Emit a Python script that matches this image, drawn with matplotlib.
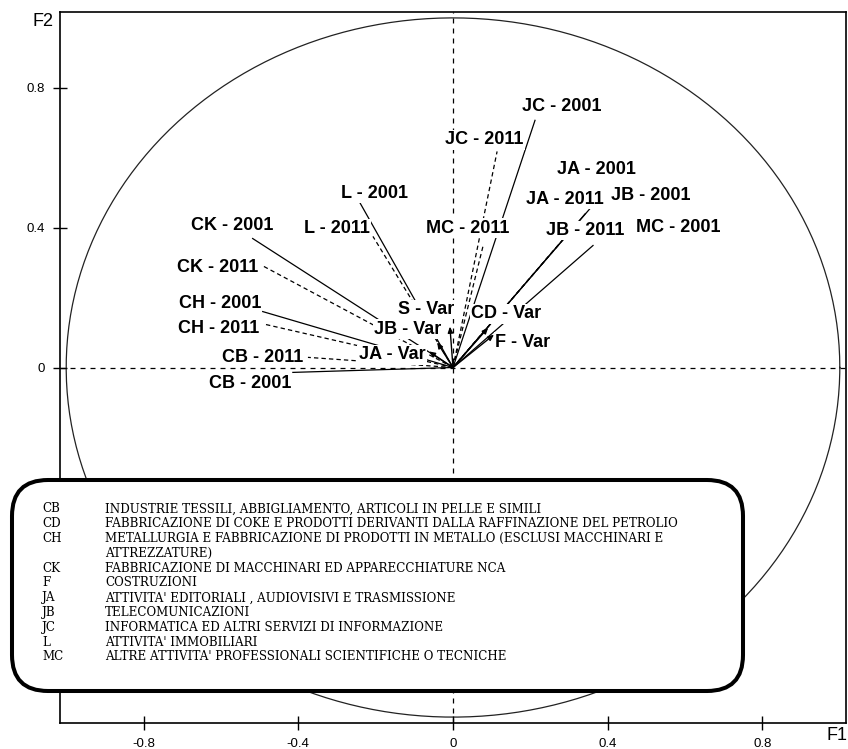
import numpy as np
import matplotlib
matplotlib.use("Agg")
import matplotlib.pyplot as plt
from matplotlib.patches import FancyBboxPatch
from matplotlib.transforms import IdentityTransform

# Variable coordinates on the first two factorial axes (F1, F2)
names_2001 = ["CB - 2001", "CH - 2001", "CK - 2001", "L - 2001",
              "JC - 2001", "JA - 2001", "JB - 2001", "MC - 2001"]
f1_2001 = [-0.414, -0.492, -0.518, -0.241, 0.212, 0.374, 0.342, 0.362]
f2_2001 = [-0.014, 0.160, 0.369, 0.472, 0.707, 0.480, 0.440, 0.349]

names_2011 = ["CB - 2011", "CH - 2011", "CK - 2011", "L - 2011",
              "JC - 2011", "JA - 2011", "JB - 2011", "MC - 2011"]
f1_2011 = [-0.375, -0.484, -0.494, -0.207, 0.114, 0.311, 0.272, 0.078]
f2_2011 = [0.029, 0.123, 0.292, 0.375, 0.618, 0.400, 0.350, 0.349]

names_var = ["S - Var", "JB - Var", "JA - Var", "CD - Var", "F - Var"]
f1_var = [-0.008, -0.041, -0.062, 0.091, 0.106]
f2_var = [0.117, 0.072, 0.046, 0.114, 0.094]

x_ticks = [-0.8, -0.4, 0, 0.4, 0.8]
x_tick_labels = ["-0.8", "-0.4", "0", "0.4", "0.8"]
y_ticks = [-0.8, -0.4, 0, 0.4, 0.8]
y_tick_labels = ["", "", "0", "0.4", "0.8"]

# Sector codes and descriptions
codes = ["CB", "CD", "CH", "CK", "F", "JA", "JB", "JC", "L", "MC"]
descriptions = [
    "INDUSTRIE TESSILI, ABBIGLIAMENTO, ARTICOLI IN PELLE E SIMILI",
    "FABBRICAZIONE DI COKE E PRODOTTI DERIVANTI DALLA RAFFINAZIONE DEL PETROLIO",
    "METALLURGIA E FABBRICAZIONE DI PRODOTTI IN METALLO (ESCLUSI MACCHINARI E\nATTREZZATURE)",
    "FABBRICAZIONE DI MACCHINARI ED APPARECCHIATURE NCA",
    "COSTRUZIONI",
    "ATTIVITA' EDITORIALI , AUDIOVISIVI E TRASMISSIONE",
    "TELECOMUNICAZIONI",
    "INFORMATICA ED ALTRI SERVIZI DI INFORMAZIONE",
    "ATTIVITA' IMMOBILIARI",
    "ALTRE ATTIVITA' PROFESSIONALI SCIENTIFICHE O TECNICHE",
]

# Label anchor positions (data units), placed to avoid overlaps
label_pos = {
    "CB - 2001": (-0.525, -0.046), "CB - 2011": (-0.492, 0.029),
    "CH - 2001": (-0.603, 0.184), "CH - 2011": (-0.606, 0.112),
    "CK - 2001": (-0.570, 0.405), "CK - 2011": (-0.608, 0.287),
    "L - 2001": (-0.203, 0.498), "L - 2011": (-0.300, 0.397),
    "JC - 2001": (0.282, 0.747), "JC - 2011": (0.080, 0.652),
    "MC - 2011": (0.039, 0.398), "MC - 2001": (0.582, 0.400),
    "JA - 2001": (0.370, 0.566), "JA - 2011": (0.290, 0.481),
    "JB - 2001": (0.510, 0.493), "JB - 2011": (0.342, 0.392),
    "S - Var": (-0.070, 0.166), "JB - Var": (-0.117, 0.109),
    "JA - Var": (-0.158, 0.037), "CD - Var": (0.138, 0.154),
    "F - Var": (0.181, 0.072),
}

W, H = 848, 749
fig = plt.figure(figsize=(W / 100, H / 100), dpi=100)
fig.patch.set_facecolor("white")
ax = fig.add_axes([60 / W, 1 - 722.7 / H, 786 / W, (722.7 - 12.3) / H])

lim = 1.016
ax.set_xlim(-lim, lim)
ax.set_ylim(-lim, lim)

# Unit correlation circle and dashed axes through the origin
theta = np.linspace(0, 2 * np.pi, 400)
ax.plot(np.cos(theta), np.sin(theta), color="#222222", lw=0.9, zorder=1)
ax.axhline(0, color="black", lw=0.9, ls=(0, (4, 4)), zorder=1)
ax.axvline(0, color="black", lw=0.9, ls=(0, (4, 4)), zorder=1)

# Vectors for each variable
for x, y in zip(f1_2001, f2_2001):
    ax.plot([0, x], [0, y], color="black", lw=0.9, zorder=2)
for x, y in zip(f1_2011, f2_2011):
    ax.plot([0, x], [0, y], color="black", lw=0.9, ls=(0, (3.5, 2.5)), zorder=2)
for x, y in zip(f1_var, f2_var):
    ax.annotate("", xy=(x, y), xytext=(0, 0),
                arrowprops=dict(arrowstyle="-|>,head_length=0.35,head_width=0.15",
                                color="black", lw=1.0, shrinkA=0, shrinkB=0),
                zorder=2)

label_font = ["Liberation Sans", "DejaVu Sans"]
for name in names_2001 + names_2011 + names_var:
    lx, ly = label_pos[name]
    ax.text(lx, ly, name, ha="center", va="center", fontsize=13,
            fontweight="bold", family=label_font, color="black",
            bbox=dict(facecolor="white", edgecolor="none", pad=1.0), zorder=5)

ax.set_xticks(x_ticks)
ax.set_xticklabels(x_tick_labels)
ax.set_yticks(y_ticks)
ax.set_yticklabels(y_tick_labels)
ax.tick_params(direction="inout", length=10, width=1.0, labelsize=9.5,
               pad=6, colors="black")
for lab in ax.get_xticklabels() + ax.get_yticklabels():
    lab.set_family(label_font)
for sp in ax.spines.values():
    sp.set_linewidth(1.2)
    sp.set_color("black")

fig.text(32 / W, 1 - 21.5 / H, "F2", fontsize=13, family=label_font,
         ha="left", va="center")
fig.text(826 / W, 1 - 735 / H, "F1", fontsize=13, family=label_font,
         ha="left", va="center")

# Rounded legend box with sector descriptions
box = FancyBboxPatch((12, H - 691), 731, 211,
                     boxstyle="round,pad=0,rounding_size=36",
                     transform=IdentityTransform(), facecolor="white",
                     edgecolor="black", linewidth=2.9, zorder=10)
fig.add_artist(box)

row_h = 14.8
y_row = 509.0
for code, desc in zip(codes, descriptions):
    lines = desc.split("\n")
    fig.text(42 / W, 1 - y_row / H, code, fontsize=8.6, family="DejaVu Serif",
             ha="left", va="center", zorder=11)
    for k, line in enumerate(lines):
        fig.text(105 / W, 1 - (y_row + k * row_h) / H, line, fontsize=8.6,
                 family="DejaVu Serif", ha="left", va="center", zorder=11)
    y_row += row_h * len(lines)

fig.savefig("out.png", dpi=100, facecolor="white")
